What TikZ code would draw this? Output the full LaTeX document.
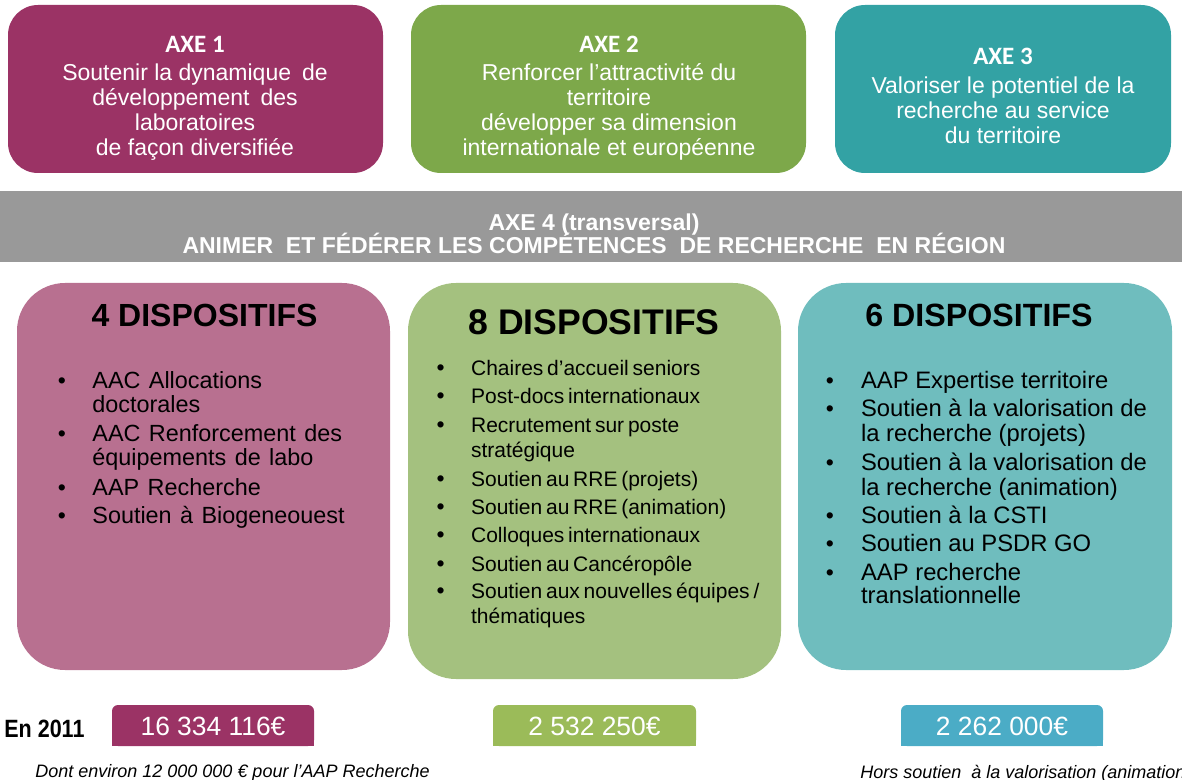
\documentclass[tikz,border=0pt]{standalone}
\usepackage{fontspec}
\setmainfont{Liberation Sans}
\newfontfamily\calib{Carlito}
\usetikzlibrary{fit}
\definecolor{axeA}{RGB}{155,51,101}
\definecolor{axeB}{RGB}{125,168,74}
\definecolor{axeC}{RGB}{51,162,164}
\definecolor{band}{RGB}{153,153,153}
\definecolor{boxA}{RGB}{184,112,144}
\definecolor{boxB}{RGB}{164,193,127}
\definecolor{boxC}{RGB}{111,189,190}
\definecolor{amtA}{RGB}{155,51,101}
\definecolor{amtB}{RGB}{155,187,89}
\definecolor{amtC}{RGB}{75,172,198}
\begin{document}
\begin{tikzpicture}[x=0.5pt,y=-0.5pt,
  axebox/.style={inner sep=0pt, rounded corners=15pt},
  dispbox/.style={inner sep=0pt, rounded corners=24pt},
  amtbox/.style={inner sep=0pt, rounded corners=3pt},
  axehead/.style={anchor=base, inner sep=0pt, text=white, font=\calib\bfseries\fontsize{12.5}{14}\selectfont},
  axetxt/.style={anchor=base, inner sep=0pt, text=white, font=\fontsize{11.5}{13}\selectfont},
  bandtxt/.style={anchor=base, inner sep=0pt, text=white, font=\bfseries\fontsize{11.5}{13}\selectfont},
  disphead/.style={anchor=base, inner sep=0pt, font=\bfseries\fontsize{#1}{#1}\selectfont},
  itm/.style={anchor=base west, inner sep=0pt, font=\fontsize{#1}{13}\selectfont},
  bul/.style={anchor=base, inner sep=0pt, font=\fontsize{11.5}{13}\selectfont},
  amttxt/.style={anchor=base, inner sep=0pt, text=white, font=\fontsize{13.2}{15}\selectfont},
  note/.style={anchor=base west, inner sep=0pt, font=\itshape\fontsize{9}{11}\selectfont}
]
\useasboundingbox (0,0) rectangle (1182,780);

% top boxes
\node[axebox, fit={(8,5) (383,173)}, fill=axeA] (axe1) {};
\node[axebox, fit={(411,5) (806,173)}, fill=axeB] (axe2) {};
\node[axebox, fit={(835,5) (1171,173)}, fill=axeC] (axe3) {};

\node[axehead] (h1) at (195,52.7) {AXE 1};
\node[axetxt] (a1l1) at (195,81) {Soutenir la dynamique\hspace{0.2em} de};
\node[axetxt] (a1l2) at (195,106) {développement\hspace{0.2em} des};
\node[axetxt] (a1l3) at (195,131) {laboratoires};
\node[axetxt] (a1l4) at (195,156) {de façon diversifiée};

\node[axehead] (h2) at (609,52.7) {AXE 2};
\node[axetxt] (a2l1) at (609,81) {Renforcer l'attractivité du};
\node[axetxt] (a2l2) at (609,106) {territoire};
\node[axetxt] (a2l3) at (609,131) {développer sa dimension};
\node[axetxt] (a2l4) at (609,156) {internationale et européenne};

\node[axehead] (h3) at (1003,65) {AXE 3};
\node[axetxt] (a3l1) at (1003,93.3) {Valoriser le potentiel de la};
\node[axetxt] (a3l2) at (1003,118.3) {recherche au service};
\node[axetxt] (a3l3) at (1003,143.3) {du territoire};

% band
\node[fit={(0,191) (1182,262)}, inner sep=0pt, fill=band] (axe4) {};
\node[bandtxt] (b1) at (594,231) {AXE 4 (transversal)};
\node[bandtxt] (b2) at (594,254) {ANIMER\ \ ET FÉDÉRER LES COMPÉTENCES\ \ DE RECHERCHE\ \ EN RÉGION};

% dispositifs boxes
\node[dispbox, fit={(17,283) (390,670)}, fill=boxA] (d1) {};
\node[dispbox, fit={(408,283) (781,679)}, fill=boxB] (d2) {};
\node[dispbox, fit={(798,283) (1172,670)}, fill=boxC] (d3) {};

\node[disphead=16] (dh1) at (204.5,326.7) {4 DISPOSITIFS};
\node[disphead=17.8] (dh2) at (594,335) {8 DISPOSITIFS};
\node[disphead=16.1] (dh3) at (979,326.7) {6 DISPOSITIFS};

% list 1
\foreach \y/\b/\t [count=\i] in {
  388/1/{AAC Allocations},
  412.7/0/{doctorales},
  441.7/1/{AAC Renforcement des},
  465.7/0/{équipements de labo},
  495.7/1/{AAP Recherche},
  523.3/1/{Soutien à Biogeneouest}}{
  \node[itm=11.7] (l1-\i) at (92,\y) {\spaceskip=0.36em\relax\t};
  \ifnum\b=1 \node[bul] (p1-\i) at (62,\y) {•};\fi
}
% list 2
\foreach \y/\b/\t [count=\i] in {
  375/1/{Chaires d’accueil seniors},
  403.3/1/{Post-docs internationaux},
  432.3/1/{Recrutement sur poste},
  457.3/0/{stratégique},
  486/1/{Soutien au RRE (projets)},
  514.3/1/{Soutien au RRE (animation)},
  542.7/1/{Colloques internationaux},
  571/1/{Soutien au Cancéropôle},
  598.3/1/{Soutien aux\ nouvelles équipes /},
  623.3/0/{thématiques}}{
  \node[itm=10.5] (l2-\i) at (470.7,\y) {\spaceskip=0.18em plus 0.1em\relax\t};
  \ifnum\b=1 \node[bul] (p2-\i) at (440.7,\y) {•};\fi
}
% list 3
\foreach \y/\b/\t [count=\i] in {
  388.3/1/{AAP Expertise territoire},
  416.7/1/{Soutien à la valorisation de},
  441.7/0/{la recherche (projets)},
  470/1/{Soutien à la valorisation de},
  495/0/{la recherche (animation)},
  523.3/1/{Soutien à la CSTI},
  551.7/1/{Soutien au PSDR GO},
  580/1/{AAP recherche},
  603.3/0/{translationnelle}}{
  \node[itm=11.9] (l3-\i) at (860.7,\y) {\t};
  \ifnum\b=1 \node[bul] (p3-\i) at (830,\y) {•};\fi
}

% amounts
\node[amtbox, fit={(112,705) (314,746)}, fill=amtA] (m1) {};
\fill[amtA] (m1.west) rectangle (m1.south east);
\node[amtbox, fit={(493,705) (696,746)}, fill=amtB] (m2) {};
\fill[amtB] (m2.west) rectangle (m2.south east);
\node[amtbox, fit={(901,705) (1103,746)}, fill=amtC] (m3) {};
\fill[amtC] (m3.west) rectangle (m3.south east);
\node[amttxt] (mt1) at (213,735) {16 334 116€};
\node[amttxt] (mt2) at (594.5,735) {2 532 250€};
\node[amttxt] (mt3) at (1002,735) {2 262 000€};

\node[anchor=base west, inner sep=0pt, font=\bfseries\fontsize{12.5}{14}\selectfont] (en) at (4,737) {\scalebox{0.86}[1]{En 2011}};

\node[note] (n1) at (35,777) {Dont environ 12 000 000 € pour l'AAP Recherche};
\node[note] (n3) at (860,778) {Hors soutien\ \ à la valorisation (animation)};
\end{tikzpicture}
\end{document}
